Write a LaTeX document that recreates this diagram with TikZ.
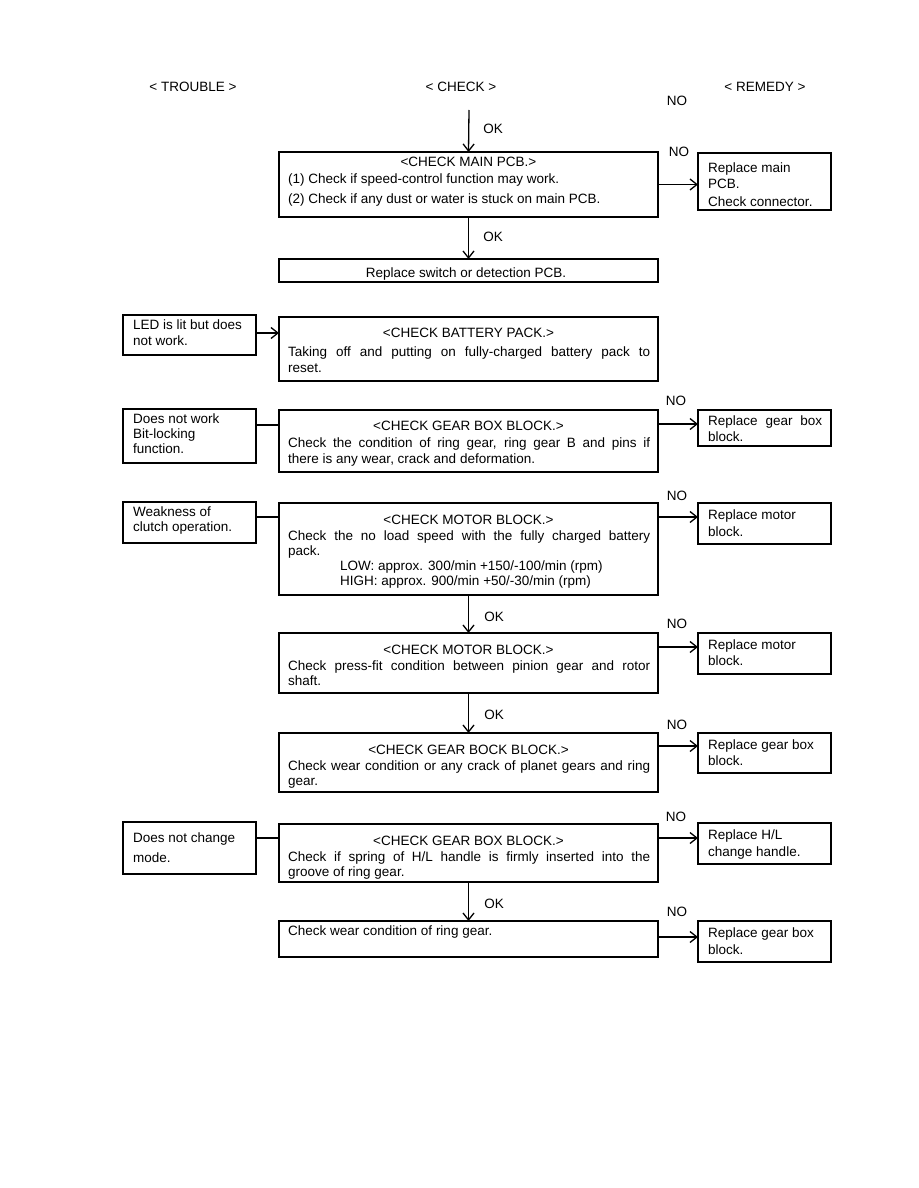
\documentclass[tikz,border=0pt]{standalone}
\usepackage{fontspec}
\setmainfont{Liberation Sans}
\usetikzlibrary{arrows.meta}
\newcommand\jline[1]{\makebox[362pt][s]{#1}}
\tikzset{
  box/.style={draw, line width=2pt, inner sep=0pt, outer sep=0pt},
  thinbox/.style={draw, line width=1.5pt, inner sep=0pt, outer sep=0pt},
  cbox/.style={box, minimum width=379pt},
  rbox/.style={box, minimum width=133pt},
  tbox/.style={box, minimum width=133pt},
  txt/.style={font=\fontsize{13.5}{15.5}\selectfont, inner sep=0pt, anchor=base west},
  ctxt/.style={txt, anchor=base},
  conn/.style={line width=1.3pt},
  arr/.style={conn, -{Straight Barb[length=7pt,width=11pt,line width=1.3pt]}},
}
\begin{document}
\begin{tikzpicture}[x=1pt,y=-1pt]
\useasboundingbox (0,0) rectangle (918,1188);

% headers
\node[ctxt] (h1) at (193,92) {< TROUBLE >};
\node[ctxt] (h2) at (461,92) {< CHECK >};
\node[ctxt] (h3) at (765,92) {< REMEDY >};
\node[ctxt] (no0) at (677,106) {NO};
\coordinate (top) at (469,110);

% ---- main PCB
\node[cbox, minimum height=65pt] (c1) at (468.5,184.5) {};
\node[ctxt] (c1t) at (468.5,166) {<CHECK MAIN PCB.>};
\node[txt] (c1a) at (288,183) {(1) Check if speed-control function may work.};
\node[txt] (c1b) at (288,203) {(2) Check if any dust or water is stuck on main PCB.};
\node[rbox, minimum height=57pt] (r1) at (764.5,181.5) {};
\node[txt] (r1a) at (708,172) {Replace main};
\node[txt] (r1b) at (708,188) {PCB.};
\node[txt] (r1c) at (708,206) {Check connector.};
\node[ctxt] (no1) at (679,157) {NO};
\draw[arr] (top) -- (c1.north);
\node[ctxt] (ok0) at (493,134) {OK};
\draw[arr] (c1.east) -- (c1.east -| r1.west);

\node[thinbox, minimum width=379pt, minimum height=23pt] (c2) at (468.5,270.5) {};
\node[ctxt] (c2t) at (466,277) {Replace switch or detection PCB.};
\draw[arr] (c1.south) -- (c2.north);
\node[ctxt] (ok1) at (493,241) {OK};

% ---- battery
\node[tbox, minimum height=40pt] (t1) at (189.5,335) {};
\node[txt] (t1a) at (133,329) {LED is lit but does};
\node[txt] (t1b) at (133,345) {not work.};
\node[cbox, minimum height=64pt] (c3) at (468.5,349) {};
\node[ctxt] (c3t) at (468.5,337) {<CHECK BATTERY PACK.>};
\node[txt] (c3a) at (288,356) {\jline{Taking off and putting on fully-charged battery pack to}};
\node[txt] (c3b) at (288,372) {reset.};
\draw[arr] ([yshift=2pt]t1.east) -- ([yshift=2pt]t1.east -| c3.west);

% ---- gear box 1
\node[ctxt] (no2) at (676,405) {NO};
\node[tbox, minimum height=54pt] (t2) at (189.5,436) {};
\node[txt] (t2a) at (133,423) {Does not work};
\node[txt] (t2b) at (133,438) {Bit-locking};
\node[txt] (t2c) at (133,453) {function.};
\node[cbox, minimum height=62pt] (c4) at (468.5,441) {};
\node[ctxt] (c4t) at (468.5,430) {<CHECK GEAR BOX BLOCK.>};
\node[txt] (c4a) at (288,447) {\jline{Check the condition of ring gear, ring gear B and pins if}};
\node[txt] (c4b) at (288,463) {there is any wear, crack and deformation.};
\node[rbox, minimum height=36pt] (r2) at (764.5,428) {};
\node[txt] (r2a) at (708,425) {\makebox[114pt][s]{Replace gear box}};
\node[txt] (r2b) at (708,441) {block.};
\draw[conn] ([yshift=11pt]t2.east) -- ([yshift=11pt]t2.east -| c4.west);
\draw[arr] ([yshift=17pt]c4.east) -- ([yshift=17pt]c4.east -| r2.west);

% ---- motor 1
\node[ctxt] (no3) at (677,500) {NO};
\node[tbox, minimum height=41pt] (t3) at (189.5,522.5) {};
\node[txt] (t3a) at (133,516) {Weakness of};
\node[txt] (t3b) at (133,531) {clutch operation.};
\node[cbox, minimum height=92pt] (c5) at (468.5,549) {};
\node[ctxt] (c5t) at (468.5,524) {<CHECK MOTOR BLOCK.>};
\node[txt] (c5a) at (288,540) {\jline{Check the no load speed with the fully charged battery}};
\node[txt] (c5b) at (288,555) {pack.};
\node[txt] (c5c) at (340,570) {LOW: approx. 300/min +150/-100/min (rpm)};
\node[txt] (c5d) at (340,585) {HIGH: approx. 900/min +50/-30/min (rpm)};
\node[rbox, minimum height=41pt] (r3) at (764.5,523.5) {};
\node[txt] (r3a) at (708,519) {Replace motor};
\node[txt] (r3b) at (708,536) {block.};
\draw[conn] ([yshift=5.5pt]t3.east) -- ([yshift=5.5pt]t3.east -| c5.west);
\draw[arr] ([yshift=32pt]c5.east) -- ([yshift=32pt]c5.east -| r3.west);

% ---- motor 2
\node[ctxt] (no4) at (677,628) {NO};
\node[cbox, minimum height=60pt] (c6) at (468.5,663) {};
\node[ctxt] (c6t) at (468.5,654) {<CHECK MOTOR BLOCK.>};
\node[txt] (c6a) at (288,670) {\jline{Check press-fit condition between pinion gear and rotor}};
\node[txt] (c6b) at (288,685) {shaft.};
\node[rbox, minimum height=41pt] (r4) at (764.5,653.5) {};
\node[txt] (r4a) at (708,649) {Replace motor};
\node[txt] (r4b) at (708,665) {block.};
\draw[arr] (c5.south) -- (c6.north);
\node[ctxt] (ok2) at (494,621) {OK};
\draw[arr] ([yshift=16pt]c6.east) -- ([yshift=16pt]c6.east -| r4.west);

% ---- gear bock
\node[ctxt] (no5) at (677,729) {NO};
\node[cbox, minimum height=59pt] (c7) at (468.5,762.5) {};
\node[ctxt] (c7t) at (468.5,754) {<CHECK GEAR BOCK BLOCK.>};
\node[txt] (c7a) at (288,770) {\jline{Check wear condition or any crack of planet gears and ring}};
\node[txt] (c7b) at (288,785) {gear.};
\node[rbox, minimum height=40pt] (r5) at (764.5,753) {};
\node[txt] (r5a) at (708,749) {Replace gear box};
\node[txt] (r5b) at (708,765) {block.};
\draw[arr] (c6.south) -- (c7.north);
\node[ctxt] (ok3) at (494,719) {OK};
\draw[arr] ([yshift=16.5pt]c7.east) -- ([yshift=16.5pt]c7.east -| r5.west);

% ---- gear box H/L
\node[ctxt] (no6) at (676,821) {NO};
\node[tbox, minimum height=52pt] (t4) at (189.5,848) {};
\node[txt] (t4a) at (133,842) {Does not change};
\node[txt] (t4b) at (133,862) {mode.};
\node[cbox, minimum height=58pt] (c8) at (468.5,853) {};
\node[ctxt] (c8t) at (468.5,845) {<CHECK GEAR BOX BLOCK.>};
\node[txt] (c8a) at (288,861) {\jline{Check if spring of H/L handle is firmly inserted into the}};
\node[txt] (c8b) at (288,876) {groove of ring gear.};
\node[rbox, minimum height=41pt] (r6) at (764.5,843.5) {};
\node[txt] (r6a) at (708,839) {Replace H/L};
\node[txt] (r6b) at (708,856) {change handle.};
\draw[conn] ([yshift=10pt]t4.east) -- ([yshift=10pt]t4.east -| c8.west);
\draw[arr] ([yshift=15pt]c8.east) -- ([yshift=15pt]c8.east -| r6.west);

% ---- last
\node[ctxt] (no7) at (677,916) {NO};
\node[thinbox, minimum width=379pt, minimum height=36pt] (c9) at (468.5,939) {};
\node[txt] (c9a) at (288,935) {Check wear condition of ring gear.};
\node[rbox, minimum height=41pt] (r7) at (764.5,941.5) {};
\node[txt] (r7a) at (708,937) {Replace gear box};
\node[txt] (r7b) at (708,954) {block.};
\draw[arr] (c8.south) -- (c9.north);
\node[ctxt] (ok4) at (494,908) {OK};
\draw[arr] ([yshift=2pt]c9.east) -- ([yshift=2pt]c9.east -| r7.west);
\end{tikzpicture}
\end{document}
